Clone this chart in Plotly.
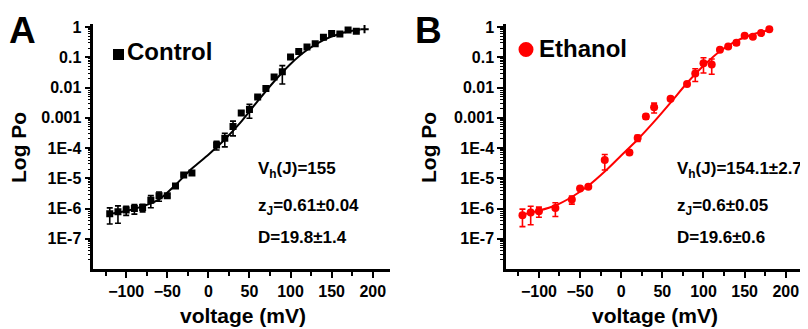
import numpy as np
import plotly.graph_objects as go

# ---------------- data ----------------
# Panel A: Control
ctrl_v = [-120, -110, -100, -90, -80, -70, -60, -50, -40, -30, -20,
          10, 20, 30, 40, 50, 60, 70, 80, 90, 100, 110, 120, 130, 140, 150, 160, 170, 180]
ctrl_log = [-6.17, -6.11, -6.05, -6.00, -5.97, -5.73, -5.58, -5.58, -5.26, -4.89, -4.83,
            -3.90, -3.68, -3.29, -2.84, -2.73, -2.31, -2.03, -1.65, -1.48, -0.99, -0.81, -0.66,
            -0.55, -0.34, -0.21, -0.23, -0.10, -0.14]
ctrl_err = [3.7e-7, 4.5e-7, 3.0e-7, 3.5e-7, 3.0e-7, 8.0e-7, 9.0e-7, 3.0e-7, 5.0e-7, 1.0e-6, 1.0e-6,
            4.0e-5, 1.0e-4, 2.6e-4, 2.0e-4, 9.0e-4, 3.0e-4, 5.0e-4, 1.5e-3, 2.0e-2, 1.0e-2, 1.0e-2,
            1.5e-2, 2.0e-2, 3.0e-2, 4.0e-2, 4.0e-2, 5.0e-2, 5.0e-2]
ctrl_extra_v = [190]
ctrl_extra_log = [-0.07]
ctrl_fit_v = [-120, -100, -80, -60, -40, -20, 0, 20, 40, 60, 80, 100, 120, 140, 160, 180, 185]
ctrl_fit_log = [-6.18, -6.08, -5.93, -5.70, -5.22, -4.68, -4.22, -3.72, -3.13, -2.45, -1.80,
                -1.22, -0.76, -0.43, -0.22, -0.10, -0.08]

# Panel B: Ethanol
eth_v = [-120, -110, -100, -80, -60, -50, -40, -20, 10, 20, 30, 40, 60, 80, 90, 100, 110,
         120, 130, 140, 150, 160, 170, 180]
eth_log = [-6.22, -6.13, -6.09, -5.98, -5.70, -5.34, -5.28, -4.40, -4.15, -3.67, -2.96, -2.65,
           -2.37, -1.88, -1.54, -1.20, -1.24, -0.75, -0.64, -0.52, -0.29, -0.32, -0.20, -0.07]
eth_err = [3.5e-7, 4.5e-7, 3.0e-7, 5.0e-7, 6.0e-7, 5.0e-7, 6.0e-7, 2.1e-5, 1.0e-5, 5.0e-5,
           2.0e-4, 8.0e-4, 5.0e-4, 2.0e-3, 1.3e-2, 3.3e-2, 3.0e-2, 2.0e-2, 2.0e-2, 5.0e-2,
           3.0e-2, 5.0e-2, 3.0e-2, 3.0e-2]
eth_fit_v = [-120, -100, -80, -60, -40, -20, 0, 20, 40, 60, 80, 100, 120, 140, 160, 180]
eth_fit_log = [-6.20, -6.07, -5.90, -5.62, -5.25, -4.78, -4.25, -3.72, -3.13, -2.50, -1.85,
               -1.28, -0.80, -0.46, -0.24, -0.10]

y_tickvals = [1, 0.1, 0.01, 0.001, 1e-4, 1e-5, 1e-6, 1e-7]
y_ticktext = ["1", "0.1", "0.01", "0.001", "1E-4", "1E-5", "1E-6", "1E-7"]
x_tickvals = [-100, -50, 0, 50, 100, 150, 200]
x_minorvals = [-125, -75, -25, 25, 75, 125, 175]

# ---------------- figure ----------------
# The page body has an 8 px margin, so the figure starts at (8, 8) on the page.
OFF = 8
W, H = 800, 321
FONT = "Arial, Liberation Sans, sans-serif"
RED = "#ff0000"


def px(x):
    return (x - OFF) / W


def py(y):
    return 1 - (y - OFF) / H


fig = go.Figure()


def add_panel(xa, ya, v, lg, err, fv, flog, color, symbol, msize):
    po = 10 ** np.array(lg)
    fig.add_trace(go.Scatter(
        x=fv, y=10 ** np.array(flog), mode="lines",
        line=dict(color=color, width=2, shape="spline", smoothing=0.8),
        xaxis=xa, yaxis=ya, showlegend=False, hoverinfo="skip"))
    fig.add_trace(go.Scatter(
        x=v, y=po, mode="markers",
        marker=dict(color=color, symbol=symbol, size=msize, line=dict(width=0)),
        error_y=dict(type="data", array=err, symmetric=True, color=color, thickness=1.6, width=3),
        xaxis=xa, yaxis=ya, showlegend=False))


add_panel("x", "y", ctrl_v, ctrl_log, ctrl_err, ctrl_fit_v, ctrl_fit_log, "black", "square", 7)
fig.add_trace(go.Scatter(x=ctrl_extra_v, y=10 ** np.array(ctrl_extra_log), mode="markers",
                         marker=dict(color="black", symbol="cross-thin", size=6,
                                     line=dict(color="black", width=2)),
                         xaxis="x", yaxis="y", showlegend=False))
add_panel("x2", "y2", eth_v, eth_log, eth_err, eth_fit_v, eth_fit_log, RED, "circle", 8)

tickfont = dict(family=FONT, size=16, color="black", weight="bold")
ydom = [py(269), py(24)]


def xaxis_cfg(domain, rng, anchor):
    return dict(domain=domain, range=rng, anchor=anchor, showline=True, linewidth=2.5,
                linecolor="black", showgrid=False, zeroline=False, ticks="outside",
                ticklen=6, tickwidth=2, tickcolor="black", tickmode="array",
                tickvals=x_tickvals, tickfont=tickfont, automargin=False,
                minor=dict(tickmode="array", tickvals=x_minorvals, ticks="outside",
                           ticklen=4, tickwidth=1.5, tickcolor="black"))


minor_y = [k * 10.0 ** d for d in range(-8, 1) for k in range(2, 10)]


def yaxis_cfg(anchor):
    return dict(type="log", domain=ydom, range=[-8, 0.1], anchor=anchor, showline=True,
                linewidth=2.5, linecolor="black", showgrid=False, zeroline=False,
                ticks="outside", ticklen=6, tickwidth=2, tickcolor="black",
                tickmode="array", tickvals=y_tickvals, ticktext=y_ticktext,
                tickfont=tickfont, automargin=False,
                minor=dict(tickmode="array", tickvals=minor_y, ticks="outside",
                           ticklen=3, tickwidth=1.2, tickcolor="black"))


fig.update_layout(
    width=W, height=H, autosize=False,
    margin=dict(l=0, r=0, t=0, b=0),
    paper_bgcolor="white", plot_bgcolor="white",
    font=dict(family=FONT, color="black"),
    xaxis=xaxis_cfg([px(93.3), px(390)], [-140, 221], "y"),
    yaxis=yaxis_cfg("x"),
    xaxis2=xaxis_cfg([px(506), 1.0], [-140, 227], "y2"),
    yaxis2=yaxis_cfg("x2"),
)

ann = []


def text(x, y, s, size, xanchor="left", angle=0, yanchor="middle"):
    ann.append(dict(x=px(x), y=py(y), xref="paper", yref="paper", text=s, showarrow=False,
                    xanchor=xanchor, yanchor=yanchor, textangle=angle,
                    font=dict(family=FONT, size=size, color="black", weight="bold")))


# panel letters (box top at the figure's top edge)
text(7, 8, "A", 37, yanchor="top")
text(413, 8, "B", 37, yanchor="top")
# y titles
text(18, 148, "Log Po", 21, xanchor="center", angle=-90)
text(428, 148, "Log Po", 21, xanchor="center", angle=-90)
# x titles
text(243, 315, "voltage (mV)", 21, xanchor="center")
text(655, 315, "voltage (mV)", 21, xanchor="center")
# legends
text(125, 51, "Control", 24)
text(537, 48, "Ethanol", 24)
# fit parameters
text(256, 170, "V<sub>h</sub>(J)=155", 17)
text(256, 207, "z<sub>J</sub>=0.61±0.04", 17)
text(256, 237, "D=19.8±1.4", 17)
text(675, 170, "V<sub>h</sub>(J)=154.1±2.7", 17)
text(675, 207, "z<sub>J</sub>=0.6±0.05", 17)
text(675, 237, "D=19.6±0.6", 17)
fig.update_layout(annotations=ann)

# legend keys
fig.add_shape(type="rect", xref="paper", yref="paper", x0=px(113), x1=px(124), y0=py(60), y1=py(49),
              fillcolor="black", line=dict(width=0))
fig.add_shape(type="circle", xref="paper", yref="paper", x0=px(518.5), x1=px(533.5), y0=py(57), y1=py(42),
              fillcolor=RED, line=dict(width=0))

fig.write_html("out.html")
